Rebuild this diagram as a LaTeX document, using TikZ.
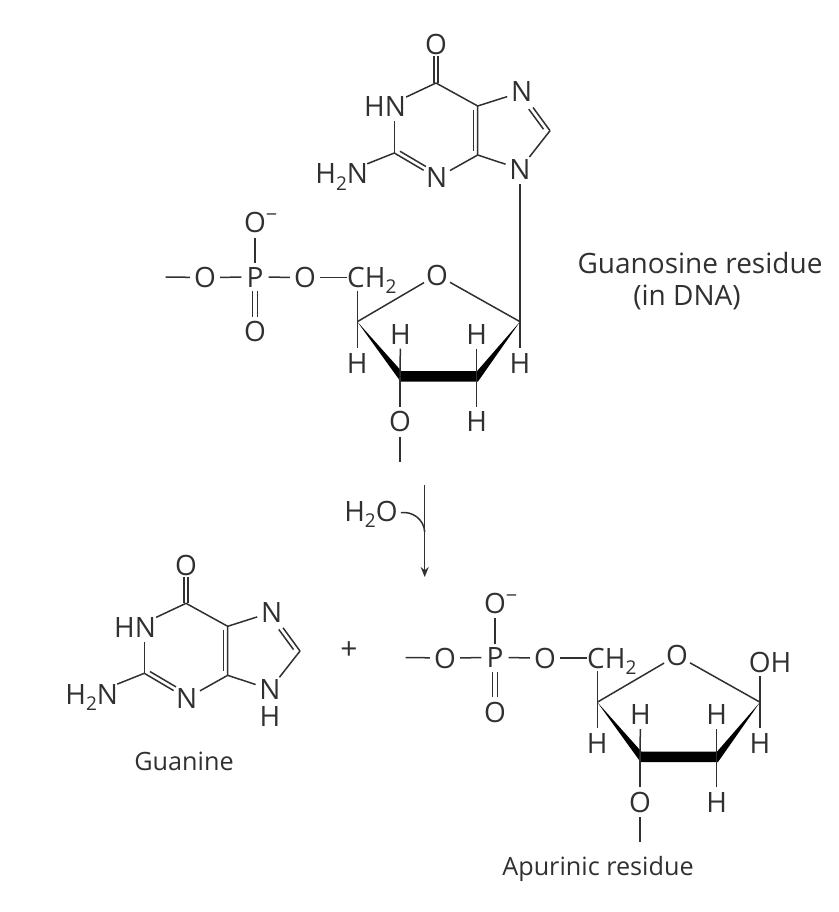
\documentclass[tikz,border=0pt]{standalone}
\usepackage{fontspec}
\setmainfont{Open Sans}
\usetikzlibrary{calc,arrows.meta,bending}
\definecolor{ink}{HTML}{303030}
\newcommand{\subtwo}{\raisebox{-6pt}{\fontsize{19}{19}\selectfont 2}}
\tikzset{
  bond/.style={draw=ink,line width=1.5pt},
  atom/.style={circle,inner sep=0pt,minimum size=30pt,text=ink,font=\fontsize{28}{28}\selectfont,text height=20pt,text depth=0pt},
  hup/.style={atom,minimum size=26pt},
  group/.style={atom,shape=rectangle,minimum size=0pt,inner sep=0pt},
  caption/.style={text=ink,font=\fontsize{28}{32}\selectfont,align=center,inner sep=0pt},
  smallcaption/.style={caption,font=\fontsize{25.2}{30}\selectfont},
}
% second line of a double bond: from, to, offset, shorten start, shorten end
\newcommand{\dbl}[5]{\draw[bond,shorten <=#4,shorten >=#5] ($(#1)!#3!90:(#2)$) -- ($(#2)!#3!-90:(#1)$);}
% purine ring skeleton, without the N9 substituent
\newcommand{\purine}{
  \node[atom] (O) at (436,45) {O};
  \coordinate (C6) at (436,83);
  \node[group] (HN) at (385,107) {HN};
  \coordinate (C2) at (394.3,153);
  \node[atom] (N3) at (436.7,178) {N};
  \coordinate (C4) at (477.7,155);
  \coordinate (C5) at (477.7,106);
  \node[atom] (N7) at (521.7,92) {N};
  \coordinate (C8) at (550,130.7);
  \node[atom] (N9) at (520,169) {N};
  \node[group] (NH2) at (341.7,174) {H\subtwo N};
  \draw[bond] (C6) -- (HN);
  \draw[bond] (C6) -- (C5) -- (C4);
  \draw[bond] (C5) -- (N7);
  \draw[bond,shorten <=4pt] (N7) -- (C8);
  \draw[bond] (C8) -- (N9) -- (C4) -- (N3);
  \draw[bond] (N3) -- (C2);
  \draw[bond,shorten <=4pt] (HN.south -| C2) -- (C2);
  \draw[bond] (C2) -- (NH2);
  \dbl{C6}{O}{2.2pt}{0pt}{11.5pt}
  \dbl{C6}{O}{-2.2pt}{0pt}{11.5pt}
  \dbl{C5}{C4}{-4.4pt}{4pt}{4pt}
  \dbl{C8}{N7}{4.4pt}{5pt}{18pt}
  \dbl{C2}{N3}{4.4pt}{4pt}{15pt}
}
% sugar phosphate
\newcommand{\sugar}{
  \coordinate (D) at (165.7,277);
  \node[atom] (Om) at (255,222.7) {O\rlap{\raisebox{11pt}{\fontsize{20}{20}\selectfont −}}};
  \node[atom,minimum size=27pt] (P) at (255,277) {P};
  \node[atom] (OL) at (205,277.5) {O};
  \node[atom] (OR) at (305,277.5) {O};
  \node[atom] (OD) at (255,331.5) {O};
  \node[group,anchor=west] (CH) at (347,277.5) {CH\subtwo};
  \node[atom,minimum size=28pt] (OE) at (437,275) {O};
  \coordinate (C4p) at (357.3,321.7);
  \coordinate (C1p) at (520,321.7);
  \coordinate (C3p) at (400,376.7);
  \coordinate (C2p) at (476.7,376.7);
  \node[atom] (H4) at (357.3,363) {H};
  \node[hup] (H3) at (400.5,334) {H};
  \node[hup] (H2) at (476.7,334) {H};
  \node[atom] (H1) at (520,363) {H};
  \node[atom] (O3) at (400,421.7) {O};
  \node[atom] (H5) at (476.7,421.7) {H};
  \coordinate (E) at (400,461.7);
  \draw[bond] (D) -- (OL);
  \draw[bond] (OL) -- (P);
  \draw[bond] (P) -- (OR);
  \draw[bond] (Om) -- (P);
  \dbl{P}{OD}{2.3pt}{14pt}{15pt}
  \dbl{P}{OD}{-2.3pt}{14pt}{15pt}
  \draw[bond] (OR) -- (CH.west);
  \draw[bond,shorten <=3pt] (CH.south -| C4p) -- (C4p);
  \draw[bond] (C4p) -- (OE);
  \draw[bond] (OE) -- (C1p);
  \fill[black] (C4p) -- (401.5,371.2) -- (477,371.2) -- (C1p) -- (478,381.5) -- (400.5,381.5) -- cycle;
  \draw[bond] (C4p) -- (H4);
  \draw[bond] (C3p) -- (H3);
  \draw[bond] (C2p) -- (H2);
  \draw[bond] (C1p) -- (H1);
  \draw[bond] (C3p) -- (O3);
  \draw[bond] (C2p) -- (H5);
  \draw[bond] (O3) -- (E);
}
\begin{document}
\begin{tikzpicture}[x=1pt,y=-1pt]
\useasboundingbox (0,0) rectangle (838,912);
% upper molecule
\begin{scope}[name prefix=pa-]\purine\end{scope}
\begin{scope}[name prefix=sa-]\sugar\end{scope}
\draw[bond] (pa-N9) -- (sa-C1p);
\node[caption] (gr) at (700,281) {Guanosine residue\\\hspace*{-26pt}(in DNA)};
% reaction arrow
\coordinate (a1) at (424.7,485);
\coordinate (a2) at (424.7,577);
\coordinate (a3) at (424.7,532);
\node[group] (w) at (371,511.7) {H\subtwo O};
\draw[bond,-{Stealth[length=10pt,width=8pt]}] (a1) -- (a2);
\draw[bond] (w.east) ++(3,1) .. controls (412,511) and (424,519) .. (a3);
% lower left molecule
\begin{scope}[name prefix=pb-,shift={(-250,520.3)}]\purine
  \node[atom,minimum size=24pt] (HH) at (520,196) {H};
\end{scope}
\node[smallcaption] (gn) at (184,761.7) {Guanine};
\node[caption,font=\fontsize{30}{30}\selectfont] (plus) at (349,651) {+};
% lower right molecule
\begin{scope}[name prefix=sb-,shift={(240,380.5)}]\sugar\end{scope}
\node[group] (oh) at (770,662.7) {OH};
\draw[bond,shorten <=3pt] (oh.south -| sb-C1p) -- (sb-C1p);
\node[smallcaption] (ap) at (598,869) {Apurinic residue};
\end{tikzpicture}
\end{document}
